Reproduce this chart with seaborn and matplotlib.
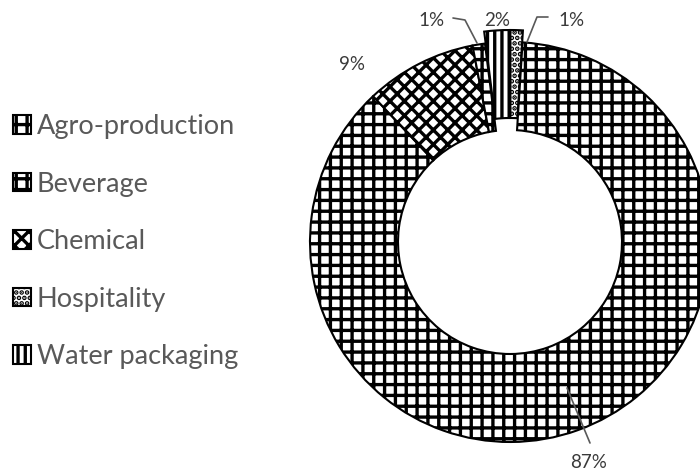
import matplotlib
matplotlib.use('Agg')
import matplotlib.pyplot as plt
import seaborn as sns

# données (ordre de la légende)
secteurs = ['Agro-production', 'Beverage', 'Chemical', 'Hospitality', 'Water packaging']
parts    = [87, 1, 9, 1, 2]
motifs   = ['++', '++', 'xxx', '....', '|||']

# ordre de dessin du donut (sens horaire depuis le haut)
ordre_pie = ['Water packaging', 'Hospitality', 'Agro-production', 'Chemical', 'Beverage']
eclat     = {'Water packaging': 0.06, 'Hospitality': 0.06, 'Agro-production': 0.0,
             'Chemical': 0.0, 'Beverage': 0.0}

# dpi plus élevé pour resserrer les hachures, tailles corrigées par k
DPI = 130
k   = 100 / DPI
W, H = 700, 473

sns.set_theme(style='white')
plt.rcParams['font.family'] = ['Lato', 'DejaVu Sans']
plt.rcParams['hatch.linewidth'] = 2.4 * k
plt.rcParams['hatch.color'] = 'black'

fig = plt.figure(figsize=(W / DPI, H / DPI), dpi=DPI)
cx, cy, R = 510, 242, 200
ax = fig.add_axes([(cx - 250) / W, (H - cy - 250) / H, 500 / W, 500 / H])

valeurs = [parts[secteurs.index(s)] for s in ordre_pie]
wedges, _ = ax.pie(
    valeurs,
    startangle=97.2,
    counterclock=False,
    explode=[eclat[s] for s in ordre_pie],
    radius=1.0,
    wedgeprops=dict(width=0.44, facecolor='white', edgecolor='black', linewidth=1.5 * k),
)
for w, s in zip(wedges, ordre_pie):
    w.set_hatch(motifs[secteurs.index(s)])

ax.set_xlim(-1.25, 1.25)
ax.set_ylim(-1.25, 1.25)
ax.set_aspect('equal')
ax.axis('off')

col_lbl = '#3a3a3a'
fs_lbl  = 13.5 * k

def etiquette(txt, xy, ligne=None):
    ax.text(xy[0], xy[1], txt, ha='center', va='center', fontsize=fs_lbl, color=col_lbl)
    if ligne is not None:
        xs, ys = zip(*ligne)
        ax.plot(xs, ys, color='#595959', lw=1.2 * k)

etiquette('87%', (0.395, -1.10), [(0.285, -0.73), (0.40, -1.005)])
etiquette('9%', (-0.79, 0.885))
etiquette('1%', (-0.39, 1.11), [(-0.285, 1.12), (-0.225, 1.11), (-0.165, 0.995)])
etiquette('2%', (-0.065, 1.11))
etiquette('1%', (0.305, 1.105), [(0.19, 1.125), (0.135, 1.125), (0.085, 1.0)])

handles = [wedges[ordre_pie.index(s)] for s in secteurs]
leg = fig.legend(
    handles, secteurs,
    loc='upper left', bbox_to_anchor=(13 / W, 1 - 114 / H),
    frameon=False, fontsize=19.5 * k,
    handlelength=0.65, handleheight=0.65, handletextpad=0.22,
    labelspacing=1.2, borderpad=0, borderaxespad=0,
)
for t in leg.get_texts():
    t.set_color('#595959')

fig.savefig('out.png', dpi=DPI)
